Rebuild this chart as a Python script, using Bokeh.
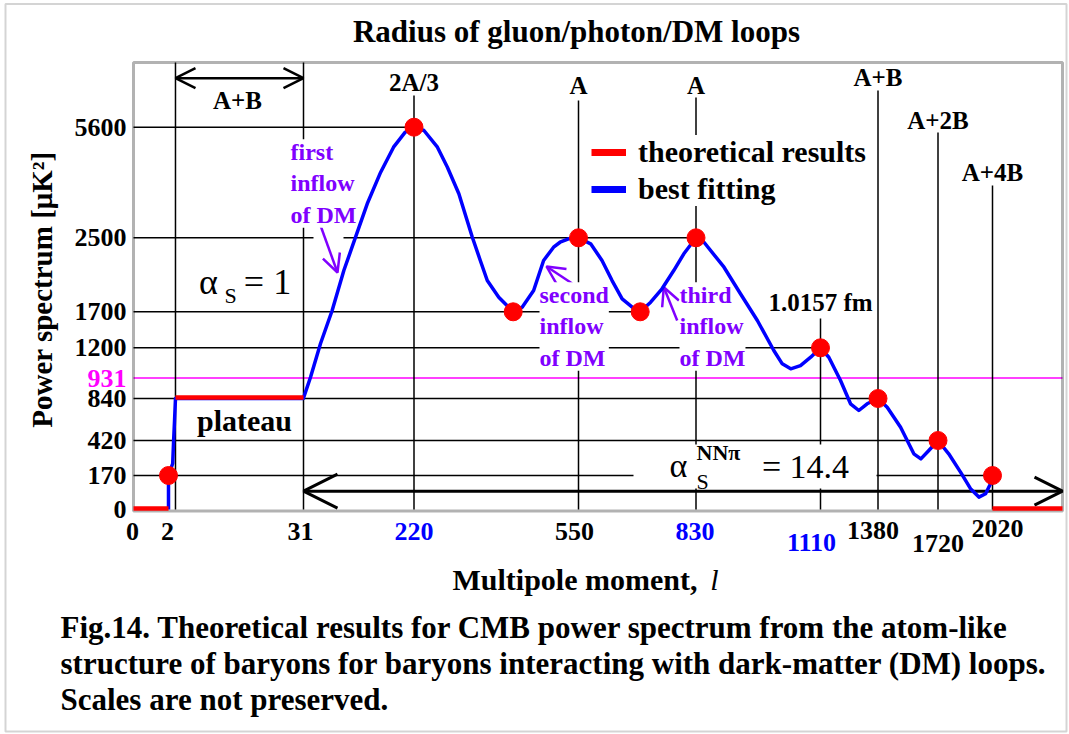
import numpy as np
from bokeh.plotting import figure
from bokeh.models import (ColumnDataSource, Label, LabelSet, Arrow, OpenHead,
                          BoxAnnotation, Legend, LegendItem, Range1d)
from bokeh.core.properties import value
from bokeh.embed import file_html
from bokeh.resources import INLINE

# ------------------------------------------------------------------ data
ELL_TICKS = [0, 2, 31, 220, 550, 830, 1110, 1380, 1720, 2020]
POWER_TICKS = [0, 170, 420, 840, 931, 1200, 1700, 2500, 5600]

# theoretical results (red dots)
THEORY_ELL = [2, 220, 419, 550, 697, 830, 1110, 1380, 1720, 2020]
THEORY_POWER = [170, 5600, 1700, 2500, 1700, 2500, 1200, 840, 420, 170]

# theoretical results (red segments)
LOW_ZERO_ELL = [0, 2]
PLATEAU_ELL = [3.5, 31]
PLATEAU_POWER = 840
HIGH_ZERO_FROM = 2020
MAGENTA_POWER = 931

# best fitting (blue curve)
FIT_ELL = [2, 2, 2.9, 3.1, 3.3, 3.5, 31, 31.5, 43, 60,
           80, 100, 120, 140, 163, 185, 205, 220, 240, 267,
           287, 310, 337, 353, 367, 390, 419, 437, 460, 480,
           500, 513, 530, 550, 579, 606, 630, 654, 678, 697,
           722, 749, 777, 801, 830, 848, 893, 930, 968, 1005,
           1024, 1043, 1065, 1088, 1110, 1149, 1204, 1251, 1290, 1329,
           1380, 1432, 1508, 1583, 1623, 1668, 1720, 1779, 1844, 1899,
           1945, 1982, 2009, 2020]
FIT_POWER = [0, 170, 256, 420, 620, 840, 840, 846, 938, 1256,
             1714, 2146, 2517, 3453, 4339, 5040, 5460, 5600, 5508, 5040,
             4479, 3733, 2517, 2255, 2038, 1858, 1700, 1750, 1930, 2255,
             2398, 2452, 2489, 2500, 2435, 2255, 2038, 1840, 1750, 1700,
             1804, 1949, 2146, 2327, 2500, 2452, 2182, 1895, 1579, 1176,
             1057, 1013, 1042, 1116, 1200, 1116, 920, 787, 720, 787,
             840, 753, 553, 325, 289, 349, 420, 325, 194, 104,
             62, 79, 129, 170]
assert len(FIT_ELL) == len(FIT_POWER)

# reference lines
HLINE_POWER = [5600, 2500, 1700, 1200, 840, 420, 170]
HLINE_END_ELL = [220, 830, 697, 1110, 1380, 1720, 2020]
VLINE_ELL = [3.5, 31, 220, 550, 830, 1110, 1380, 1720, 2020]
VLINE_NAMES = ["", "", "2A/3", "A", "A", "1.0157 fm", "A+B", "A+2B", "A+4B"]

X_TICK_COLORS = ["black", "black", "black", "#0000ff", "black", "#0000ff",
                 "#0000ff", "black", "black", "black"]
Y_TICK_COLORS = ["black", "black", "black", "black", "#ff00ff", "black",
                 "black", "black", "black"]

# ------------------------------------------------------------------ schematic layout ("scales are not preserved")
X_AXIS_POS = [133, 168, 303, 413.5, 578, 695.5, 820, 877.5, 937.5, 992]
Y_AXIS_POS = [0, 34, 69, 111, 131.5, 161.7, 197.7, 271.7, 382.3]
FRAME_L, FRAME_R, FRAME_T, FRAME_B = 133, 1062, 62, 510.5
VLINE_TOP_PX = [62, 62, 95, 100, 97, 318, 90, 132, 185]
VLABEL_PX = [0, 0, 82, 85, 85, 302, 77, 120, 172]
X_LABEL_DX = [-1, -1, -3, 0, -4, -1, -9, -5, 0, 5]
X_LABEL_DY = [0, 0, 0, 0, 0, 0, 11, -1, 12, -3]
W, H = 1069, 734


def sx(ell):
    return np.interp(ell, ELL_TICKS, X_AXIS_POS)


def sy(pw):
    return np.interp(pw, POWER_TICKS, Y_AXIS_POS)


def Y(px):
    return 509 - px


FONT = "Liberation Serif"
RED = "#ff0000"
BLUE = "#0000ff"
MAG = "#ff00ff"
PURPLE = "#8000ff"

p = figure(width=W, height=H, title=None,
           x_range=Range1d(0, W), y_range=Range1d(Y(H), Y(0)),
           x_axis_type=None, y_axis_type=None,
           toolbar_location=None, tools="", output_backend="svg",
           min_border=0, min_border_left=0, min_border_right=0,
           min_border_top=0, min_border_bottom=0,
           background_fill_color="white", border_fill_color="white",
           outline_line_color=None)

# outer figure border
p.add_layout(BoxAnnotation(left=5, right=1066, top=Y(3.5), bottom=Y(731),
                           fill_alpha=0.0, line_color="#707070", line_width=2))

# horizontal reference lines
hsrc = ColumnDataSource(dict(x0=[sx(0)] * len(HLINE_POWER), x1=sx(HLINE_END_ELL),
                             y=sy(HLINE_POWER)))
p.segment(x0="x0", y0="y", x1="x1", y1="y", source=hsrc,
          line_color="black", line_width=1.5)
# magenta 931 line
p.segment(x0=[sx(0)], y0=[sy(MAGENTA_POWER)], x1=[FRAME_R], y1=[sy(MAGENTA_POWER)],
          line_color=MAG, line_width=1.5)
# vertical reference lines
vsrc = ColumnDataSource(dict(x=sx(VLINE_ELL), y0=[sy(0)] * len(VLINE_ELL),
                             y1=[Y(v) for v in VLINE_TOP_PX]))
p.segment(x0="x", y0="y0", x1="x", y1="y1", source=vsrc,
          line_color="black", line_width=1.5)

# plot frame
p.add_layout(BoxAnnotation(left=FRAME_L, right=FRAME_R, top=Y(FRAME_T), bottom=Y(FRAME_B),
                           fill_alpha=0.0, line_color="black", line_width=3))

# mask behind alpha^NNpi text
p.add_layout(BoxAnnotation(left=633, right=876, bottom=Y(488), top=Y(444),
                           fill_color="white", fill_alpha=1.0, line_color=None))
# mask behind the first-inflow arrow
p.add_layout(BoxAnnotation(left=313, right=343, bottom=Y(242), top=Y(232),
                           fill_color="white", fill_alpha=1.0, line_color=None))

# best fitting curve
p.line(sx(FIT_ELL), sy(FIT_POWER), line_color=BLUE, line_width=3.5,
       line_join="round", level="overlay")
# theoretical segments
p.multi_line(xs=[list(sx(LOW_ZERO_ELL)), list(sx(PLATEAU_ELL)), [sx(HIGH_ZERO_FROM), FRAME_R]],
             ys=[[sy(0) + 1] * 2, [sy(PLATEAU_POWER) + 1] * 2, [sy(0) + 1] * 2],
             line_color=RED, line_width=4.5, level="overlay")
# theoretical points
p.scatter(sx(THEORY_ELL), sy(THEORY_POWER), size=18, color=RED, level="overlay")

# legend (swatches drawn by renderers without visible data)
leg_r = p.line(x=[np.nan, np.nan], y=[np.nan, np.nan], line_color=RED, line_width=7)
leg_b = p.line(x=[np.nan, np.nan], y=[np.nan, np.nan], line_color=BLUE, line_width=7)
legend = Legend(items=[LegendItem(label="theoretical results", renderers=[leg_r]),
                       LegendItem(label="best fitting", renderers=[leg_b])],
                location=(591, H - 206), orientation="vertical",
                glyph_width=35, glyph_height=34, label_height=34, spacing=3,
                padding=4, margin=0, label_standoff=12,
                label_text_font=FONT, label_text_font_size="30px",
                label_text_font_style="bold", label_text_baseline="middle",
                label_text_color="black",
                background_fill_color="white", background_fill_alpha=1.0,
                border_line_color=None)
p.add_layout(legend)

# arrows
p.add_layout(Arrow(start=OpenHead(size=20, line_width=2.5), end=OpenHead(size=20, line_width=2.5),
                   x_start=sx(PLATEAU_ELL[0]), y_start=Y(77.7), x_end=sx(31), y_end=Y(77.7),
                   line_width=2.5, line_color="black"))
p.add_layout(Arrow(start=OpenHead(size=34, line_width=3), end=OpenHead(size=28, line_width=3),
                   x_start=sx(31), y_start=Y(490.7), x_end=FRAME_R, y_end=Y(490.7),
                   line_width=3, line_color="black"))
for (xs_, ys_, xe_, ye_) in [(320, 225, 337, 272), (571.7, 283, 546, 266), (676.7, 320, 663.3, 286.7)]:
    p.add_layout(Arrow(end=OpenHead(size=18, line_width=2.5, line_color=PURPLE), start=None,
                       x_start=xs_, y_start=Y(ys_), x_end=xe_, y_end=Y(ye_),
                       line_width=2.5, line_color=PURPLE))


def lab(x, ypx, text, size, color="black", style="bold", align="center",
        baseline="middle", bg=None, angle=0.0):
    l = Label(x=x, y=Y(ypx), text=text, text_font=FONT, text_font_size=f"{size}px",
              text_font_style=style, text_color=color, text_align=align,
              text_baseline=baseline, angle=angle)
    if bg is not None:
        l.background_fill_color = bg
        l.background_fill_alpha = 1.0
    p.add_layout(l)
    return l


# tick labels
xt = ColumnDataSource(dict(x=np.array(X_AXIS_POS) + np.array(X_LABEL_DX),
                           y=[Y(531 + d) for d in X_LABEL_DY],
                           text=[str(e) for e in ELL_TICKS], color=X_TICK_COLORS))
p.add_layout(LabelSet(x="x", y="y", text="text", source=xt, text_color="color",
                      text_font=value(FONT), text_font_size=value("26px"),
                      text_font_style="bold", text_align="center", text_baseline="middle"))
yt = ColumnDataSource(dict(x=[126] * len(POWER_TICKS), y=sy(POWER_TICKS),
                           text=[str(v) for v in POWER_TICKS], color=Y_TICK_COLORS))
p.add_layout(LabelSet(x="x", y="y", text="text", source=yt, text_color="color",
                      text_font=value(FONT), text_font_size=value("26px"),
                      text_font_style="bold", text_align="right", text_baseline="middle"))

# labels over the vertical lines
for e, name, ypx in zip(VLINE_ELL, VLINE_NAMES, VLABEL_PX):
    if name:
        lab(float(sx(e)), ypx, name, 25)
lab(237, 100, "A+B", 25)
lab(244, 420, "plateau", 30)

# purple notes
lab(290, 183, "first\ninflow\nof DM", 24, color=PURPLE, align="left", bg="white")
lab(539, 326, "second\ninflow\nof DM", 24, color=PURPLE, align="left", bg="white")
lab(679, 326, "third\ninflow\nof DM", 24, color=PURPLE, align="left", bg="white")

# alpha_S = 1
lab(208, 281, "α", 36, style="normal")
lab(230, 295, "S", 22, style="normal")
lab(267, 281, "= 1", 36, style="normal")
# alpha_S^NNpi = 14.4
lab(678, 465, "α", 34, style="normal")
lab(718, 452, "NNπ", 22)
lab(702, 481, "S", 22, style="normal")
lab(805, 466, "= 14.4", 34, style="normal")

# titles
lab(576, 31, "Radius of gluon/photon/DM loops", 31)
lab(41, 289, "Power spectrum [μK²]", 29, angle=np.pi / 2)
lab(452, 579, "Multipole moment,", 30, align="left")
lab(714, 579, "l", 30, style="italic")

# caption
lab(60, 627, "Fig.14. Theoretical results for CMB power spectrum from the atom-like", 31,
    align="left")
lab(60, 663, "structure of baryons for baryons interacting with dark-matter (DM) loops.", 31,
    align="left")
lab(60, 699, "Scales are not preserved.", 31, align="left")

open("out.html", "w").write(file_html(p, INLINE))
